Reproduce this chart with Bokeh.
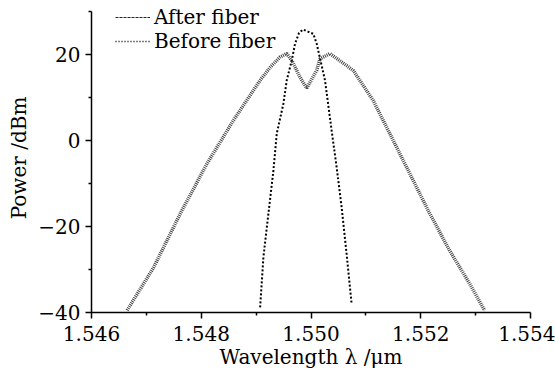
from bokeh.plotting import figure
from bokeh.models import Range1d, Legend, LegendItem, FixedTicker
from bokeh.embed import file_html
from bokeh.resources import INLINE

# After fiber (broadened spectrum)
after_wl = [1.546649, 1.547133, 1.547618, 1.548104, 1.548587, 1.549073, 1.549255,
            1.549436, 1.549558, 1.549655, 1.549800, 1.549922, 1.550104, 1.550164,
            1.550345, 1.550769, 1.551133, 1.551436, 1.551800, 1.552164, 1.552527,
            1.552891, 1.553164]
after_pw = [-39.5, -29.5, -17.0, -5.4, 4.7, 14.0, 17.0,
            19.4, 20.2, 18.5, 14.7, 12.2, 16.3, 19.0,
            20.2, 16.3, 9.3, 1.6, -7.7, -17.0, -25.6,
            -33.3, -39.5]

# Before fiber (input spectrum)
before_wl = [1.549073, 1.549133, 1.549224, 1.549315, 1.549376, 1.549496, 1.549558,
             1.549649, 1.549709, 1.549782, 1.549855, 1.549945, 1.550042, 1.550104,
             1.550255, 1.550376, 1.550467, 1.550558, 1.550649, 1.550740]
before_pw = [-38.8, -27.1, -17.0, -7.0, 1.6, 8.5, 14.0,
             18.6, 22.5, 25.0, 25.8, 25.3, 24.8, 22.5,
             14.0, 2.3, -6.2, -15.5, -26.4, -38.0]

x_ticks = [1.546, 1.548, 1.550, 1.552, 1.554]
y_ticks = [-40, -20, 0, 20]
labels = ["After fiber", "Before fiber"]

FONT = "DejaVu Serif"
FS = "20px"
NAN = float("nan")

p = figure(width=555, height=371, output_backend="svg", toolbar_location=None,
           x_range=Range1d(1.546, 1.554), y_range=Range1d(-40, 31.855),
           min_border_left=91, min_border_right=25, min_border_top=3, min_border_bottom=58)
p.outline_line_color = None
p.xgrid.visible = False
p.ygrid.visible = False
p.background_fill_color = "white"

r1 = p.line(after_wl, after_pw, line_color="#444444", line_width=3.5, line_dash="1 1")
r2 = p.line(before_wl, before_pw, line_color="black", line_width=2, line_dash="2 2")
# legend-only samples (thin dashed / dotted as in the reference legend); no visible data
l1 = p.line([NAN], [NAN], line_color="#222222", line_width=1, line_dash="3 1")
l2 = p.line([NAN], [NAN], line_color="black", line_width=1.3, line_dash="1 2")

p.xaxis.ticker = FixedTicker(ticks=x_ticks, minor_ticks=[1.547, 1.549, 1.551, 1.553])
p.yaxis.ticker = FixedTicker(ticks=y_ticks, minor_ticks=[-30, -10, 10, 30])
p.yaxis.bounds = (-40, 30)
p.xaxis.major_label_overrides = {t: f"{t:.3f}" for t in x_ticks}
p.yaxis.major_label_overrides = {t: ("\u2212" + str(abs(t)) if t < 0 else str(t)) for t in y_ticks}

for ax in (p.xaxis[0], p.yaxis[0]):
    ax.axis_line_color = "black"
    ax.axis_line_width = 1.5
    ax.major_tick_in = 0
    ax.major_tick_out = 6
    ax.minor_tick_in = 0
    ax.minor_tick_out = 3
    ax.major_tick_line_width = 1.5
    ax.minor_tick_line_width = 1.5
    ax.major_label_text_font = FONT
    ax.major_label_text_font_size = FS
    ax.major_label_text_color = "black"
    ax.axis_label_text_font = FONT
    ax.axis_label_text_font_size = FS
    ax.axis_label_text_font_style = "normal"
    ax.axis_label_text_color = "black"

p.xaxis.axis_label = "Wavelength \u03bb /\u03bcm"
p.yaxis.axis_label = "Power /dBm"
p.xaxis.major_label_standoff = 7
p.xaxis.axis_label_standoff = 1
p.yaxis.major_label_standoff = 5
p.yaxis.axis_label_standoff = 4

legend = Legend(items=[LegendItem(label=labels[0], renderers=[l1]),
                       LegendItem(label=labels[1], renderers=[l2])],
                location=(24, 259), orientation="vertical")
legend.background_fill_alpha = 0
legend.border_line_color = None
legend.padding = 0
legend.spacing = 0
legend.margin = 0
legend.glyph_width = 35
legend.glyph_height = 24
legend.label_height = 24
legend.label_standoff = 4
legend.label_text_font = FONT
legend.label_text_font_size = FS
legend.label_text_color = "black"
p.add_layout(legend, "center")

open("out.html", "w").write(file_html(p, INLINE))
